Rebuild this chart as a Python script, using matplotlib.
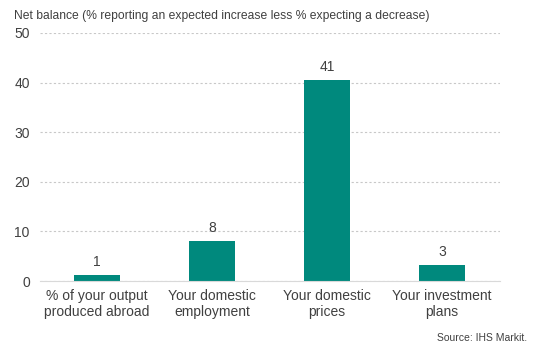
import matplotlib
matplotlib.use('Agg')
from matplotlib import pyplot as plt
import numpy as np

categories = ['% of your output\nproduced abroad', 'Your domestic\nemployment',
              'Your domestic\nprices', 'Your investment\nplans']
values = [1.2, 8, 40.6, 3.2]
labels = ['1', '8', '41', '3']
yticks = [0, 10, 20, 30, 40, 50]

plt.rcParams['font.family'] = ['Liberation Sans', 'DejaVu Sans']
text_col = '#404040'

fig = plt.figure(figsize=(5.45, 3.61), dpi=100)
ax = fig.add_axes([0.0725, 0.2216, 0.8445, 0.687])

x = np.arange(len(categories))
ax.bar(x, values, width=0.4, color='#00897D', zorder=3)
for xi, v, lab in zip(x, values, labels):
    ax.text(xi, v + 1.2, lab, ha='center', va='bottom', fontsize=10, color=text_col)

ax.set_xlim(-0.5, len(categories) - 0.5)
ax.set_ylim(0, 50)
ax.set_yticks(yticks)
ax.set_xticks(x)
ax.set_xticklabels(categories, fontsize=10, color=text_col, linespacing=1.15)
ax.tick_params(axis='y', labelsize=10, labelcolor=text_col, length=0, pad=7)
ax.tick_params(axis='x', length=0, pad=6)
ax.grid(axis='y', color='#c8c8c8', linestyle=(0, (2, 2)), linewidth=0.8, zorder=0)
for s in ['top', 'right', 'left']:
    ax.spines[s].set_visible(False)
ax.spines['bottom'].set_color('#d9d9d9')
ax.spines['bottom'].set_zorder(4)

fig.text(14 / 545, 1 - 16 / 361, 'Net balance (% reporting an expected increase less % expecting a decrease)',
         fontsize=8.7, color=text_col, va='center', ha='left')
fig.text(527 / 545, 1 - 338 / 361, 'Source: IHS Markit.', fontsize=7.5, color=text_col,
         va='center', ha='right')

fig.savefig('out.png', dpi=100)
